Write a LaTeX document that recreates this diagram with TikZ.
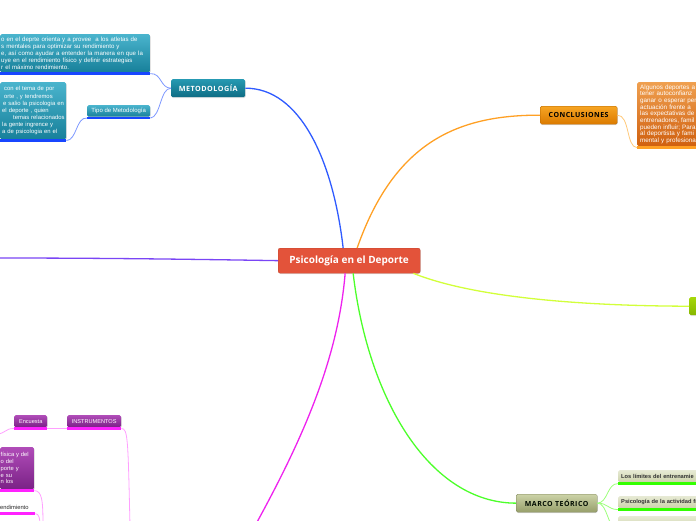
\documentclass[tikz,border=0pt]{standalone}
\usepackage{fontspec}
\setmainfont{Liberation Sans}
\newfontfamily\hfont[LetterSpace=7]{Open Sans}
\newfontfamily\cfont{Open Sans}
\usetikzlibrary{shadows}
\definecolor{redc}{HTML}{E3533A}
\definecolor{tealT}{HTML}{4AB4CD}
\definecolor{tealB}{HTML}{17809A}
\definecolor{metT}{HTML}{2699B2}
\definecolor{metB}{HTML}{0E6C84}
\definecolor{cblue}{HTML}{2F5BFF}
\definecolor{sblue}{HTML}{7E98FF}
\definecolor{ublue}{HTML}{1846FF}
\definecolor{corange}{HTML}{FFA024}
\definecolor{sorange}{HTML}{FFC878}
\definecolor{conT}{HTML}{F7A523}
\definecolor{conB}{HTML}{DB7A00}
\definecolor{ctT}{HTML}{EFA050}
\definecolor{ctB}{HTML}{D0600F}
\definecolor{clime}{HTML}{D2FF3A}
\definecolor{limeT}{HTML}{A6D80A}
\definecolor{limeB}{HTML}{86B600}
\definecolor{cpurple}{HTML}{7A45F5}
\definecolor{cmag}{HTML}{EE22EE}
\definecolor{smag}{HTML}{FFA0FF}
\definecolor{umag}{HTML}{FF22FF}
\definecolor{purT}{HTML}{B04CB8}
\definecolor{purB}{HTML}{7A2286}
\definecolor{cgreen}{HTML}{4CFF2A}
\definecolor{sgreen}{HTML}{9CFF7A}
\definecolor{ugreen}{HTML}{33FF00}
\definecolor{marT}{HTML}{CDD3A8}
\definecolor{marB}{HTML}{979F6A}
\definecolor{kT}{HTML}{E7EAD4}
\definecolor{kB}{HTML}{CDD3AB}
\tikzset{
  box/.style={rectangle, rounded corners=1.5pt, anchor=north west, inner sep=0pt,
    drop shadow={opacity=0.22, shadow xshift=0.6pt, shadow yshift=-0.9pt}},
  tealbox/.style={box, top color=tealT, bottom color=tealB, text=white},
  purbox/.style={box, top color=purT, bottom color=purB, text=white},
  main/.style={line width=1.3pt},
  sub/.style={line width=0.8pt},
  ul/.style={line width=2.4pt},
}
\begin{document}
\begin{tikzpicture}[x=1pt,y=-1pt,font=\fontsize{6.1}{7}\selectfont]
\useasboundingbox (0,0) rectangle (696,520);
\clip (0,0) rectangle (696,520);

% central
\node[box, fill=redc, draw=redc!85!black, line width=0.3pt, rounded corners=2pt,
  minimum width=142pt, minimum height=25pt, text=white,
  font=\cfont\bfseries\fontsize{10}{12}\selectfont] (c) at (278,248) {Psicología en el Deporte};

% METODOLOGIA branch
\node[box, top color=metT, bottom color=metB, text=white, minimum width=74pt, minimum height=18pt,
  font=\hfont\bfseries\fontsize{7.2}{8}\selectfont] (met) at (171,79) {METODOLOGÍA};
\node[tealbox, minimum width=150pt, minimum height=38pt, text width=148pt, inner xsep=1pt, align=left] (m1) at (0,34)
 {\mbox{o en el deprte orienta y a provee\ \ a los atletas de}\\
  \mbox{s mentales para optimizar su rendimiento y}\\
  \mbox{e, así como ayudar a entender la manera en que la}\\
  \mbox{uye en el rendimiento físico y definir estrategias}\\
  \mbox{r el máximo rendimiento.}};
\node[tealbox, minimum width=63pt, minimum height=11.5pt, font=\fontsize{6}{7}\selectfont] (tipo) at (87,105) {Tipo de Metodología};
\node[tealbox, minimum width=66pt, minimum height=57pt, text width=62pt, inner xsep=2pt, align=left,
  font=\fontsize{5.9}{7.1}\selectfont] (m2) at (0,82)
 {\mbox{\hspace*{2pt}con el tema de por}\\
  \mbox{\hspace*{2pt}orte , y tendremos}\\
  \mbox{\hspace*{1pt}e salio la psicologia en}\\
  \mbox{el deporte , quien}\\
  \mbox{\hspace*{11pt}temas relacionados}\\
  \mbox{la gente ingrence y}\\
  \mbox{a de psicologia en el}};
\draw[ul, ublue] ([yshift=-1.2pt]m1.south west) -- ([yshift=-1.2pt]m1.south east);
\draw[ul, ublue] ([yshift=-1.2pt]tipo.south west) -- ([yshift=-1.2pt]tipo.south east);
\draw[ul, ublue] ([yshift=-1.2pt]m2.south west) -- ([yshift=-1.2pt]m2.south east);

% CONCLUSIONES branch
\node[box, top color=conT, bottom color=conB, draw=conB!80!black, line width=0.3pt, minimum width=77pt, minimum height=18pt,
  font=\hfont\bfseries\fontsize{7}{8}\selectfont] (con) at (540,106) {CONCLUSIONES};
\node[box, top color=ctT, bottom color=ctB, text=white, minimum width=80pt, minimum height=64pt, text width=74pt,
  inner xsep=3pt, align=left, font=\fontsize{6.3}{6.7}\selectfont] (ct) at (637,82)
 {\mbox{Algunos deportes a}\\
  \mbox{tener autoconfianz}\\
  \mbox{ganar o esperar per}\\
  \mbox{actuación frente a}\\
  \mbox{las expectativas de}\\
  \mbox{entrenadores, famil}\\
  \mbox{pueden influir; Para}\\
  \mbox{al deportista y fami}\\
  \mbox{mental y profesiona}};
\draw[ul, corange] ([yshift=-1.2pt]ct.south west) -- ([yshift=-1.2pt]ct.south east);

% lime
\node[box, top color=limeT, bottom color=limeB, minimum width=20pt, minimum height=18pt] (lime) at (689,297) {};

% MARCO TEORICO
\node[box, top color=marT, bottom color=marB, draw=marB!80!black, line width=0.3pt, minimum width=81pt, minimum height=18pt,
  text=black!85!green!30!black, font=\hfont\bfseries\fontsize{7}{8}\selectfont] (mar) at (516,494) {MARCO TEÓRICO};
\tikzset{kbox/.style={box, top color=kT, bottom color=kB, minimum width=90pt, minimum height=12pt, text width=86pt,
  inner xsep=3pt, align=left, text=black!80, font=\bfseries\fontsize{5.7}{6}\selectfont}}
\node[kbox] (k1) at (618,470) {\mbox{Los límites del entrenamie}};
\node[kbox] (k2) at (618,496) {\mbox{Psicología de la actividad fí}};
\node[kbox] (k3) at (618,516) {};
\draw[ul, ugreen] ([yshift=-1.2pt]k1.south west) -- ([yshift=-1.2pt]k1.south east);
\draw[ul, ugreen] ([yshift=-1.2pt]k2.south west) -- ([yshift=-1.2pt]k2.south east);

% bottom-left purple/magenta
\node[purbox, minimum width=54pt, minimum height=12pt, font=\fontsize{5.6}{6}\selectfont] (ins) at (67,415) {INSTRUMENTOS};
\node[purbox, minimum width=33pt, minimum height=12pt, font=\fontsize{5.6}{6}\selectfont] (enc) at (14,415) {Encuesta};
\node[purbox, minimum width=34pt, minimum height=42pt, text width=33pt, inner xsep=0.5pt, align=left,
  font=\fontsize{5.8}{6.8}\selectfont] (pt) at (0,447)
 {\mbox{física y del}\\ \mbox{o del}\\ \mbox{porte y}\\ \mbox{e su}\\ \mbox{n los}};
\node[anchor=north west, inner sep=0pt, minimum width=35pt, minimum height=10pt, text width=35pt, align=left,
  text=black!85, font=\fontsize{5.8}{6}\selectfont] (end) at (0,502) {\mbox{endimiento}};
\draw[ul, umag] ([yshift=-1.2pt]ins.south west) -- ([yshift=-1.2pt]ins.south east);
\draw[ul, umag] ([yshift=-1.2pt]enc.south west) -- ([yshift=-1.2pt]enc.south east);
\draw[ul, umag] ([yshift=-1.2pt]pt.south west) -- ([yshift=-1.2pt]pt.south east);
\draw[ul, umag] ([yshift=-1.2pt]end.south west) -- ([yshift=-1.2pt]end.south east);

% off-page ends
\coordinate (pEnd) at (-3,258);
\coordinate (mEnd) at (256,524);
\coordinate (insEnd) at (130,526);
\coordinate (encEnd) at (-4,434);
\coordinate (ptEnd) at (43,526);
\coordinate (endEnd) at (40,526);

% main connectors
\draw[main, cblue] ([xshift=-6pt]c.north) .. controls (333,160) and (300,88) .. (met.east);
\draw[main, corange] ([xshift=8pt]c.north) .. controls (395,140) and (460,115) .. (con.west);
\draw[main, clime] ([xshift=-7pt]c.south east) .. controls (480,300) and (600,306) .. (lime.west);
\draw[main, cpurple] (c.west) .. controls (180,259) and (90,258) .. (pEnd);
\draw[main, cmag] ([xshift=-4pt]c.south) .. controls (338,360) and (302,440) .. (mEnd);
\draw[main, cgreen] ([xshift=4pt]c.south) .. controls (368,400) and (430,503) .. (mar.west);

% sub connectors
\draw[sub, sblue] (met.west) .. controls (160,88) and (162,73.2) .. ([yshift=-1.2pt]m1.south east);
\draw[sub, sblue] (met.west) .. controls (160,88) and (161,116.7) .. ([yshift=-1.2pt]tipo.south east);
\draw[sub, sblue] ([yshift=-1.2pt]tipo.south west) .. controls (76,116.7) and (77,140.2) .. ([yshift=-1.2pt]m2.south east);
\draw[sub, sorange] (con.east) .. controls (630,115) and (626,147.2) .. ([yshift=-1.2pt]ct.south west);
\draw[sub, sgreen] (mar.east) .. controls (608,503) and (607,483.2) .. ([yshift=-1.2pt]k1.south west);
\draw[sub, sgreen] (mar.east) .. controls (608,503) and (607,509.2) .. ([yshift=-1.2pt]k2.south west);
\draw[sub, sgreen] (mar.east) .. controls (608,503) and (607,529) .. (618,529);
\draw[sub, smag] ([yshift=-1.2pt]ins.south east) .. controls (128,428) and (128,440) .. (insEnd);
\draw[sub, smag] ([yshift=-1.2pt]enc.south east) -- ([yshift=-1.2pt]ins.south west);
\draw[sub, smag] ([yshift=-1.2pt]enc.south west) .. controls (5,428) and (6,434) .. (encEnd);
\draw[sub, smag] ([yshift=-1.2pt]pt.south east) .. controls (42,491) and (43,500) .. (ptEnd);
\draw[sub, smag] ([yshift=-1.2pt]end.south east) .. controls (39,514) and (40,518) .. (endEnd);
\end{tikzpicture}
\end{document}
